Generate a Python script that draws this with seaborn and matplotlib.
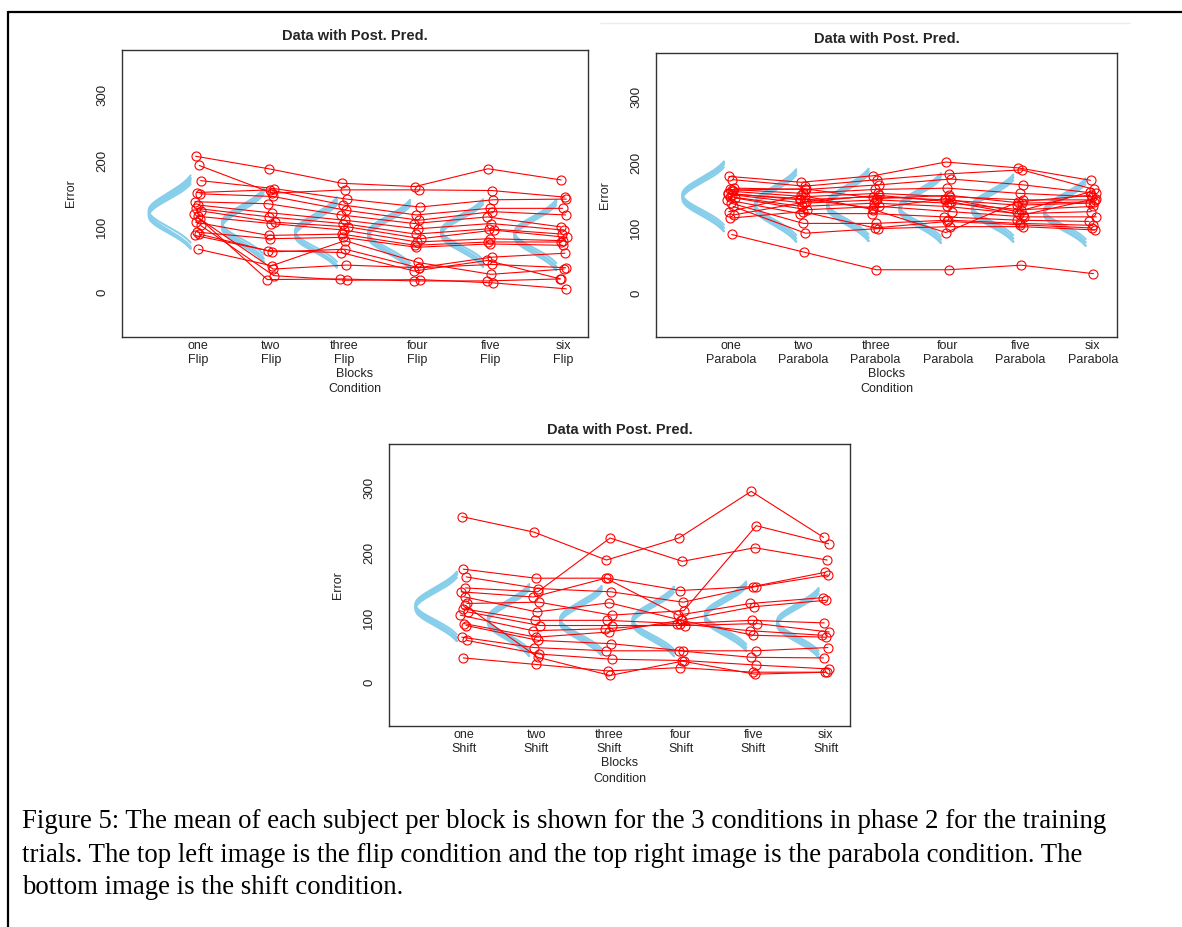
import numpy as np
import pandas as pd
import seaborn as sns
import matplotlib.pyplot as plt
from matplotlib.lines import Line2D

sns.set_style("white")
plt.rcParams["font.family"] = ["Liberation Sans", "DejaVu Sans"]

blocks = ["one", "two", "three", "four", "five", "six"]

# mean error of each subject per block (one row per subject)
flip_means = [
    [207, 188, 166, 161, 188, 171],
    [193, 151, 156, 156, 155, 145],
    [170, 158, 142, 130, 141, 142],
    [152, 156, 133, 118, 128, 128],
    [150, 146, 125, 110, 123, 118],
    [138, 135, 118, 105, 115, 100],
    [133, 121, 110, 97, 105, 95],
    [128, 115, 105, 89, 97, 89],
    [124, 107, 100, 82, 95, 84],
    [120, 20, 21, 18, 18, 21],
    [116, 105, 95, 77, 82, 79],
    [112, 36, 42, 38, 43, 38],
    [107, 87, 89, 72, 77, 77],
    [102, 26, 19, 20, 15, 6],
    [92, 82, 84, 69, 74, 72],
    [89, 62, 66, 38, 54, 60],
    [87, 64, 61, 33, 49, 21],
    [66, 41, 79, 46, 28, 36],
]

parabola_means = [
    [179, 170, 180, 201, 192, 173],
    [174, 164, 174, 183, 189, 159],
    [161, 159, 166, 175, 166, 153],
    [159, 153, 159, 161, 153, 148],
    [156, 148, 153, 148, 143, 143],
    [153, 143, 148, 143, 135, 138],
    [151, 138, 143, 138, 128, 133],
    [148, 133, 138, 133, 122, 125],
    [146, 128, 133, 125, 117, 117],
    [143, 122, 122, 117, 112, 110],
    [138, 107, 107, 112, 107, 104],
    [133, 92, 99, 102, 102, 97],
    [125, 150, 128, 93, 140, 150],
    [120, 140, 150, 140, 120, 145],
    [115, 125, 100, 110, 105, 100],
    [158, 160, 145, 150, 138, 140],
    [152, 145, 130, 145, 125, 155],
    [90, 63, 36, 36, 43, 30],
]

shift_means = [
    [256, 232, 189, 223, 295, 224],
    [146, 140, 223, 187, 208, 189],
    [122, 124, 104, 111, 242, 214],
    [175, 161, 161, 142, 148, 170],
    [163, 145, 140, 124, 148, 166],
    [140, 132, 161, 104, 122, 131],
    [132, 109, 123, 96, 117, 127],
    [114, 96, 96, 91, 96, 92],
    [109, 88, 88, 88, 91, 78],
    [104, 80, 83, 91, 80, 73],
    [91, 70, 78, 96, 73, 70],
    [88, 65, 60, 49, 49, 54],
    [70, 54, 49, 49, 39, 38],
    [65, 44, 36, 34, 27, 21],
    [38, 28, 18, 23, 16, 16],
    [119, 39, 11, 33, 13, 16],
]

# small horizontal jitter of the subject points, one value per subject
jitter = [-0.03, 0.02, 0.04, -0.01, 0.03, -0.04, 0.01, -0.02, 0.05,
          -0.05, 0.0, 0.03, -0.03, 0.04, -0.01, 0.02, -0.04, 0.01]

# posterior predictive draws (mean, sd) per block
flip_pp_mu = [[116, 118, 120, 121, 123, 125], [98, 100, 102, 103, 105, 107],
              [86, 88, 89, 91, 92, 94], [84, 86, 87, 89, 90, 92],
              [87, 89, 90, 92, 93, 95], [84, 86, 87, 89, 90, 92]]
flip_pp_sd = [[25, 26, 27, 26, 28, 25], [26, 27, 28, 26, 27, 25],
              [24, 25, 26, 25, 27, 24], [24, 25, 26, 25, 26, 24],
              [24, 25, 26, 24, 25, 23], [25, 26, 27, 25, 26, 24]]

parabola_pp_mu = [[144, 146, 148, 149, 151, 152], [130, 132, 134, 135, 137, 138],
                  [131, 133, 135, 136, 138, 139], [126, 128, 130, 131, 133, 134],
                  [126, 128, 130, 131, 133, 134], [120, 122, 124, 125, 127, 128]]
parabola_pp_sd = [[25, 26, 27, 25, 26, 24], [26, 27, 28, 26, 27, 25],
                  [26, 27, 28, 26, 27, 25], [25, 26, 27, 25, 26, 24],
                  [24, 25, 26, 24, 25, 23], [24, 25, 26, 24, 25, 23]]

shift_pp_mu = [[113, 115, 117, 118, 120, 121], [92, 94, 96, 97, 99, 100],
               [91, 93, 95, 96, 98, 99], [90, 92, 94, 95, 97, 98],
               [98, 100, 102, 103, 105, 106], [88, 90, 92, 93, 95, 96]]
shift_pp_sd = [[25, 26, 27, 25, 26, 24], [26, 27, 28, 26, 27, 25],
               [25, 26, 27, 25, 26, 24], [25, 26, 27, 25, 26, 24],
               [25, 26, 27, 25, 26, 24], [25, 26, 27, 25, 26, 24]]

caption = [
    "Figure 5: The mean of each subject per block is shown for the 3 conditions in phase 2 for the training",
    "trials. The top left image is the flip condition and the top right image is the parabola condition. The",
    "bottom image is the shift condition.",
]

W, H = 1182, 927
fig = plt.figure(figsize=(W / 100, H / 100), dpi=100)


def px_axes(left, top, right, bottom):
    return fig.add_axes([left / W, 1 - bottom / H, (right - left) / W, (bottom - top) / H])


def draw_panel(ax, means, pp_mu, pp_sd, cond):
    n_sub = len(means)
    df = pd.DataFrame({
        "subject": np.repeat(np.arange(n_sub), len(blocks)),
        "block": np.tile(np.arange(1, len(blocks) + 1), n_sub)
                 + np.repeat(jitter[:n_sub], len(blocks)),
        "error": np.ravel(means),
    })
    # sideways normal curves of the posterior predictive
    for b in range(len(blocks)):
        for m, s in zip(pp_mu[b], pp_sd[b]):
            yy = np.linspace(m - 1.96 * s, m + 1.96 * s, 201)
            dens = np.exp(-0.5 * ((yy - m) / s) ** 2)
            ax.plot(b + 1 - 0.67 * dens, yy, color="skyblue", lw=1.5)
    sns.lineplot(data=df, x="block", y="error", units="subject", estimator=None,
                 sort=False, color="red", lw=0.8, marker="o", markersize=6.5,
                 markerfacecolor="none", markeredgecolor="red",
                 markeredgewidth=0.8, legend=False, ax=ax)

    ax.set_xlim(-0.036, 6.336)
    ax.set_ylim(-67, 368)
    ax.set_xticks(range(1, 7))
    ax.set_xticklabels([f"{b}\n{cond}" for b in blocks], fontsize=9, color="#222222")
    ax.set_yticks([0, 100, 200, 300])
    ax.set_yticklabels(["0", "100", "200", "300"], fontsize=9.5, color="#222222",
                       rotation=90, va="center")
    ax.tick_params(axis="x", length=0, pad=2)
    ax.tick_params(axis="y", length=5, width=0.8, color="#666666", pad=5)
    ax.set_xlabel("")
    ax.set_ylabel("")
    for sp in ax.spines.values():
        sp.set_color("#333333")
        sp.set_linewidth(1)
    ax.set_title("Data with Post. Pred.", fontsize=10.5, fontweight="bold", pad=7)
    ax.text(-0.11, 0.5, "Error", transform=ax.transAxes, rotation=90,
            ha="center", va="center", fontsize=9, color="#222222")
    ax.annotate("Blocks", xy=(0.5, 0), xycoords="axes fraction", xytext=(0, -27),
                textcoords="offset points", ha="center", va="center",
                fontsize=9, color="#222222")
    ax.annotate("Condition", xy=(0.5, 0), xycoords="axes fraction", xytext=(0, -37.8),
                textcoords="offset points", ha="center", va="center",
                fontsize=9, color="#222222")


ax1 = px_axes(122, 50, 588, 337)
draw_panel(ax1, flip_means, flip_pp_mu, flip_pp_sd, "Flip")
ax2 = px_axes(656, 53, 1117, 337)
draw_panel(ax2, parabola_means, parabola_pp_mu, parabola_pp_sd, "Parabola")
ax3 = px_axes(389, 444, 850, 726)
draw_panel(ax3, shift_means, shift_pp_mu, shift_pp_sd, "Shift")

# page frame
fig.add_artist(Line2D([8 / W, 1], [1 - 12 / H] * 2, transform=fig.transFigure,
                      color="black", lw=1.6))
fig.add_artist(Line2D([8 / W] * 2, [0, 1 - 12 / H], transform=fig.transFigure,
                      color="black", lw=1.6))
fig.add_artist(Line2D([600 / W, 1130 / W], [1 - 23 / H] * 2, transform=fig.transFigure,
                      color="#ececec", lw=1))

for i, line in enumerate(caption):
    fig.text(22 / W, 1 - (822 + 33 * i) / H, line, family="Liberation Serif",
             fontsize=19.3, ha="left", va="center", color="black")

fig.savefig("out.png", dpi=100)
